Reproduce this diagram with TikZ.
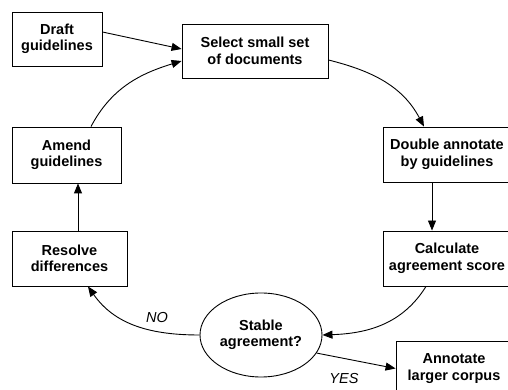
\documentclass[tikz,border=0pt]{standalone}
\usepackage{fontspec}
\setmainfont{Liberation Sans}
\usetikzlibrary{arrows.meta,shapes.geometric}
\begin{document}
\begin{tikzpicture}[x=1pt,y=1pt,
  box/.style={draw,line width=0.9pt,rectangle,align=center,inner sep=0pt,
    font=\bfseries\fontsize{14.5}{16.5}\selectfont},
  decision/.style={draw,line width=0.9pt,ellipse,align=center,inner sep=0pt,
    minimum width=122pt,minimum height=84pt,
    font=\bfseries\fontsize{14.5}{16.5}\selectfont},
  conn/.style={line width=0.9pt,-{Triangle[length=10pt,width=8pt]}},
  lbl/.style={font=\itshape\fontsize{14.5}{16.5}\selectfont,inner sep=0pt}]
\path[use as bounding box,clip] (0,0) rectangle (508,390);
\node[box,minimum width=90pt,minimum height=54pt] (draft) at (57,351) {Draft\\guidelines};
\node[box,minimum width=146pt,minimum height=54pt] (select) at (255,339) {Select small set\\of documents};
\node[box,minimum width=109pt,minimum height=56pt] (amend) at (66.5,235) {Amend\\guidelines};
\node[box,minimum width=128pt,minimum height=55pt] (double) at (447,235.5) {Double annotate\\by guidelines};
\node[box,minimum width=115pt,minimum height=55pt] (resolve) at (69.5,131.5) {Resolve\\differences};
\node[box,minimum width=128pt,minimum height=55pt] (calc) at (447,131.5) {Calculate\\agreement score};
\node[box,minimum width=116pt,minimum height=55pt] (annot) at (454,21.5) {Annotate\\larger corpus};
\node[decision] (stable) at (261,55) {Stable\\agreement?};

\draw[conn] ([yshift=7pt]draft.east) -- ([yshift=2pt]select.west);
\draw[conn] ([xshift=24.5pt]amend.north) to[out=62,in=197] ([yshift=-10pt]select.west);
\draw[conn] ([yshift=-9pt]select.east) to[out=-14,in=118] ([xshift=-23pt]double.north);
\draw[conn] ([xshift=-15pt]double.south) -- ([xshift=-15pt]calc.north);
\draw[conn] ([xshift=-21pt]calc.south) to[out=-122,in=2] (stable.east);
\draw[conn] (stable.west) to[out=180,in=-55] ([xshift=18.5pt]resolve.south);
\node[lbl] (no) at (157,72) {NO};
\draw[conn] (stable.-18) -- (annot.west);
\node[lbl] (yes) at (344,11) {YES};
\draw[conn] ([xshift=8.5pt]resolve.north) -- ([xshift=11.5pt]amend.south);
\end{tikzpicture}
\end{document}
